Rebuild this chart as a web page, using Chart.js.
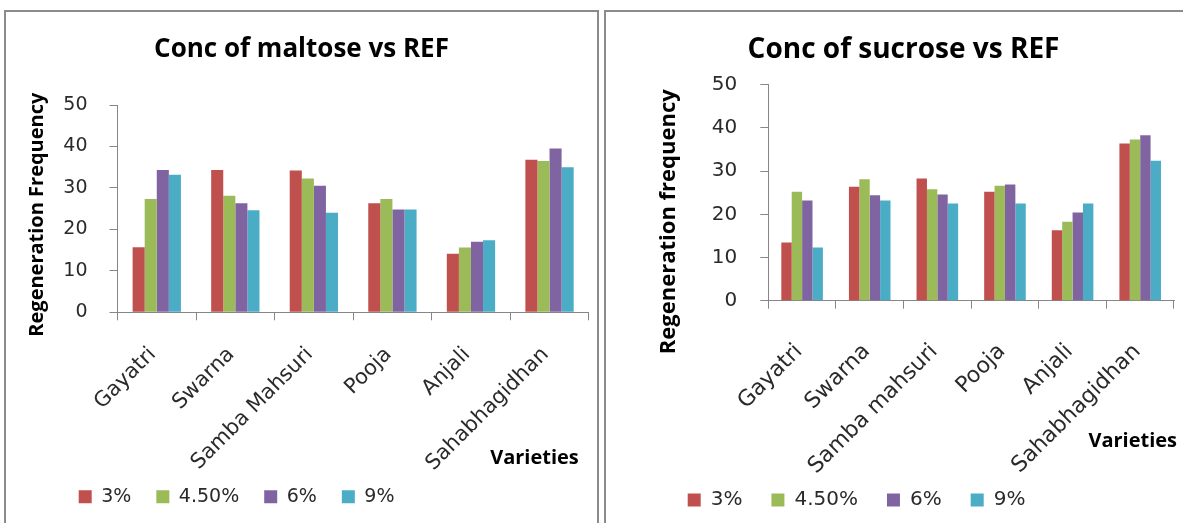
<!DOCTYPE html>
<html lang="en">
<head>
    <meta charset="UTF-8">
    <title>Conc of maltose / sucrose vs REF</title>
    <script src="https://cdn.jsdelivr.net/npm/chart.js"></script>
    <style>
        html, body { margin: 0; padding: 0; background: #fff; overflow: hidden; width: 1183px; height: 523px; }
        .panel { position: absolute; top: 10px; border: 2px solid #8b8b8b; background: #fff; }
        #leftPanel { left: 4px; width: 591px; height: 545px; }
        #rightPanel { left: 604px; width: 595px; height: 545px; }
        canvas { display: block; }
    </style>
</head>
<body>
<div class="panel" id="leftPanel"><canvas id="maltoseChart" width="591" height="520"></canvas></div>
<div class="panel" id="rightPanel"><canvas id="sucroseChart" width="595" height="540"></canvas></div>

<script>
    // categories
    const maltoseVarieties = ['Gayatri', 'Swarna', 'Samba Mahsuri', 'Pooja', 'Anjali', 'Sahabhagidhan'];
    const sucroseVarieties = ['Gayatri', 'Swarna', 'Samba mahsuri', 'Pooja', 'Anjali', 'Sahabhagidhan'];
    const concLabels = ['3%', '4.50%', '6%', '9%'];

    // regeneration frequency, maltose
    const maltose3 = [15.7, 34.3, 34.2, 26.3, 14.1, 36.8];
    const maltose45 = [27.3, 28.1, 32.3, 27.3, 15.6, 36.5];
    const maltose6 = [34.3, 26.3, 30.5, 24.8, 17.0, 39.5];
    const maltose9 = [33.2, 24.6, 24.0, 24.8, 17.4, 35.0];

    // regeneration frequency, sucrose
    const sucrose3 = [13.5, 26.4, 28.3, 25.2, 16.3, 36.4];
    const sucrose45 = [25.2, 28.1, 25.8, 26.6, 18.3, 37.3];
    const sucrose6 = [23.2, 24.4, 24.6, 26.9, 20.4, 38.3];
    const sucrose9 = [12.3, 23.2, 22.5, 22.5, 22.5, 32.4];

    const barColors = ['#C0504D', '#9BBB59', '#8064A2', '#4BACC6'];
    const axisColor = '#868686';

    Chart.defaults.font.family = "'DejaVu Sans', sans-serif";
    Chart.defaults.color = '#2a2a2a';

    // after layout: move the legend, and nudge the axis titles, to where the original has them
    const nudge = {
        id: 'nudge',
        afterLayout(chart, args, opts) {
            const lg = chart.legend;
            lg.left += opts.legend.dx; lg.right += opts.legend.dx;
            lg.top += opts.legend.dy; lg.bottom += opts.legend.dy;
            ['x', 'y'].forEach(id => {
                const sc = chart.scales[id];
                const sh = opts[id];
                sc.drawTitle = function () {
                    const box = [this.left, this.right, this.top, this.bottom];
                    this.left += sh.dx; this.right += sh.dx;
                    this.top += sh.dy; this.bottom += sh.dy;
                    Object.getPrototypeOf(this).drawTitle.call(this);
                    [this.left, this.right, this.top, this.bottom] = box;
                };
            });
        }
    };

    function makeChart(id, s) {
        const ctx = document.getElementById(id).getContext('2d');
        return new Chart(ctx, {
            type: 'bar',
            data: {
                labels: s.labels,
                datasets: s.series.map((d, i) => ({
                    label: concLabels[i],
                    data: d,
                    backgroundColor: barColors[i],
                    borderWidth: 0,
                    categoryPercentage: 0.615,
                    barPercentage: 1.0
                }))
            },
            plugins: [nudge],
            options: {
                responsive: false,
                animation: false,
                layout: { padding: { left: s.side, right: s.side, top: 0, bottom: s.bottomPad } },
                plugins: {
                    tooltip: { enabled: false },
                    title: {
                        display: true,
                        text: s.title,
                        color: '#000',
                        font: { family: "'Open Sans', sans-serif", size: s.titleSize, weight: 'bold' },
                        padding: { top: s.titleTop, bottom: s.titleBottom }
                    },
                    legend: {
                        position: 'bottom',
                        align: 'start',
                        labels: {
                            boxWidth: 13,
                            boxHeight: 13,
                            padding: s.legendGap,
                            color: '#2a2a2a',
                            font: { size: s.legendSize }
                        }
                    },
                    nudge: {
                        legend: { dx: s.legendDx, dy: s.legendDy },
                        x: { dx: s.xTitleDx, dy: s.xTitleDy },
                        y: { dx: 0, dy: s.yTitleDy }
                    }
                },
                scales: {
                    x: {
                        grid: { drawOnChartArea: false, drawTicks: true, tickLength: 8, color: axisColor },
                        border: { color: axisColor },
                        ticks: {
                            autoSkip: false,
                            minRotation: 45,
                            maxRotation: 45,
                            padding: s.xTickPad,
                            labelOffset: s.xLabelOffset,
                            font: { size: s.xTickSize }
                        },
                        title: {
                            display: true,
                            text: 'Varieties',
                            align: 'end',
                            color: '#000',
                            font: { family: "'Open Sans', sans-serif", size: 20, weight: 'bold' },
                            padding: { top: 0, bottom: 2 }
                        },
                        afterFit(scale) { scale.height = s.xHeight; }
                    },
                    y: {
                        min: 0,
                        max: 50,
                        grid: { drawOnChartArea: false, drawTicks: true, tickLength: 8, color: axisColor },
                        border: { color: axisColor },
                        ticks: { stepSize: 10, padding: s.yTickPad, font: { size: s.yTickSize } },
                        title: {
                            display: true,
                            text: s.yTitle,
                            color: '#000',
                            font: { family: "'Open Sans', sans-serif", size: s.yTitleSize, weight: 'bold' },
                            padding: { top: s.yTitlePad, bottom: 0 }
                        },
                        afterFit(scale) { scale.width = s.yWidth; }
                    }
                }
            }
        });
    }

    makeChart('maltoseChart', {
        labels: maltoseVarieties,
        series: [maltose3, maltose45, maltose6, maltose9],
        title: 'Conc of maltose vs REF',
        titleSize: 26, titleTop: 21.9, titleBottom: 39.9,
        side: 8.2, bottomPad: 6,
        yWidth: 103.3, yTickPad: 22, yTickSize: 19,
        yTitle: 'Regeneration Frequency', yTitleSize: 20, yTitlePad: 10.8, yTitleDy: 6,
        xHeight: 159.7, xTickPad: 22, xTickSize: 21, xLabelOffset: -4, xTitleDx: -10, xTitleDy: 0,
        legendGap: 25, legendSize: 19, legendDx: 39.5, legendDy: -9.8
    });

    makeChart('sucroseChart', {
        labels: sucroseVarieties,
        series: [sucrose3, sucrose45, sucrose6, sucrose9],
        title: 'Conc of sucrose vs REF',
        titleSize: 28, titleTop: 21.2, titleBottom: 17.9,
        side: 27, bottomPad: 17.3,
        yWidth: 135.3, yTickPad: 23, yTickSize: 20,
        yTitle: 'Regeneration frequency', yTitleSize: 22, yTitlePad: 22.8, yTitleDy: 29,
        xHeight: 175, xTickPad: 30, xTickSize: 22, xLabelOffset: -3, xTitleDx: 3, xTitleDy: -20.7,
        legendGap: 29, legendSize: 20, legendDx: 25.7, legendDy: -14.7
    });
</script>
</body>
</html>
